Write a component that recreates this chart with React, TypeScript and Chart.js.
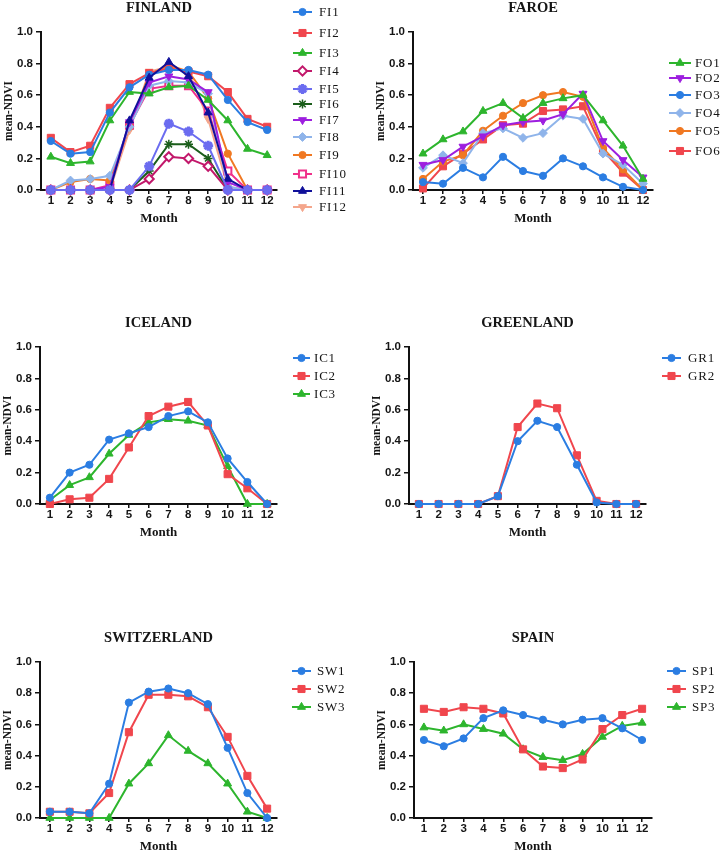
import React, { useEffect, useRef } from 'react';
import { Chart, registerables } from 'chart.js';
import { drawPoint } from 'chart.js/helpers';

Chart.register(...registerables);

// ---------- data ----------
const months = ['1', '2', '3', '4', '5', '6', '7', '8', '9', '10', '11', '12'];
const yTickValues = [0, 0.2, 0.4, 0.6, 0.8, 1.0];

// Finland
const FI1 = [0.31, 0.23, 0.24, 0.49, 0.65, 0.73, 0.76, 0.76, 0.73, 0.57, 0.43, 0.38];
const FI2 = [0.33, 0.24, 0.28, 0.52, 0.67, 0.74, 0.77, 0.75, 0.72, 0.62, 0.45, 0.40];
const FI3 = [0.21, 0.17, 0.18, 0.44, 0.62, 0.61, 0.65, 0.66, 0.57, 0.44, 0.26, 0.22];
const FI4 = [0, 0, 0, 0, 0, 0.07, 0.21, 0.20, 0.15, 0, 0, 0];
const FI5 = [0, 0, 0, 0, 0, 0.15, 0.42, 0.37, 0.28, 0, 0, 0];
const FI6 = [0, 0, 0, 0, 0, 0.12, 0.29, 0.29, 0.20, 0, 0, 0];
const FI7 = [0, 0, 0, 0.02, 0.43, 0.68, 0.72, 0.70, 0.62, 0.05, 0, 0];
const FI8 = [0, 0.06, 0.07, 0.09, 0.40, 0.66, 0.69, 0.68, 0.61, 0.02, 0, 0];
const FI9 = [0, 0.05, 0.07, 0.06, 0.40, 0.73, 0.79, 0.75, 0.58, 0.23, 0, 0];
const FI10 = [0, 0, 0, 0.03, 0.41, 0.64, 0.66, 0.66, 0.50, 0.12, 0, 0];
const FI11 = [0, 0, 0, 0, 0.44, 0.71, 0.81, 0.72, 0.49, 0.07, 0, 0];
const FI12 = [0, 0, 0, 0, 0.38, 0.75, 0.78, 0.75, 0.45, 0.02, 0, 0];

// Faroe
const FO1 = [0.23, 0.32, 0.37, 0.50, 0.55, 0.455, 0.55, 0.58, 0.60, 0.44, 0.28, 0.07];
const FO2 = [0.16, 0.19, 0.275, 0.34, 0.41, 0.43, 0.44, 0.48, 0.61, 0.31, 0.19, 0.08];
const FO3 = [0.05, 0.04, 0.14, 0.08, 0.21, 0.12, 0.09, 0.20, 0.15, 0.08, 0.02, 0.0];
const FO4 = [0.14, 0.22, 0.17, 0.36, 0.39, 0.33, 0.36, 0.47, 0.45, 0.23, 0.16, 0.04];
const FO5 = [0.07, 0.18, 0.22, 0.375, 0.47, 0.55, 0.60, 0.62, 0.59, 0.265, 0.13, 0.0];
const FO6 = [0.01, 0.15, 0.23, 0.32, 0.41, 0.42, 0.50, 0.51, 0.53, 0.25, 0.11, 0.0];

// Iceland
const IC1 = [0.04, 0.20, 0.25, 0.41, 0.45, 0.49, 0.56, 0.59, 0.52, 0.29, 0.14, 0.0];
const IC2 = [0.0, 0.03, 0.04, 0.16, 0.36, 0.56, 0.62, 0.65, 0.50, 0.19, 0.10, 0.0];
const IC3 = [0.025, 0.12, 0.17, 0.32, 0.44, 0.52, 0.54, 0.53, 0.50, 0.24, 0.0, 0.0];

// Greenland
const GR1 = [0, 0, 0, 0, 0.05, 0.40, 0.53, 0.49, 0.25, 0.01, 0, 0];
const GR2 = [0, 0, 0, 0, 0.05, 0.49, 0.64, 0.61, 0.31, 0.02, 0, 0];

// Switzerland
const SW1 = [0.04, 0.04, 0.03, 0.22, 0.74, 0.81, 0.83, 0.80, 0.73, 0.45, 0.16, 0.0];
const SW2 = [0.04, 0.04, 0.03, 0.16, 0.55, 0.79, 0.79, 0.78, 0.71, 0.52, 0.27, 0.06];
const SW3 = [0, 0, 0, 0, 0.22, 0.35, 0.53, 0.43, 0.35, 0.22, 0.04, 0.0];

// Spain
const SP1 = [0.50, 0.46, 0.51, 0.64, 0.69, 0.66, 0.63, 0.60, 0.63, 0.64, 0.575, 0.50];
const SP2 = [0.70, 0.68, 0.71, 0.70, 0.67, 0.44, 0.33, 0.32, 0.375, 0.57, 0.66, 0.70];
const SP3 = [0.58, 0.56, 0.60, 0.57, 0.54, 0.44, 0.39, 0.37, 0.41, 0.52, 0.59, 0.61];

// ---------- styles ----------
const BLUE = '#2b7de2';
const RED = '#f0464d';
const GREEN = '#2db52d';

type Style = { color: string; marker: string; radius: number; rot?: number; open?: boolean; bw?: number; order?: number };
const circle = (c: string): Style => ({ color: c, marker: 'circle', radius: 3.6 });
const square = (c: string): Style => ({ color: c, marker: 'rect', radius: 5 });
const tri = (c: string): Style => ({ color: c, marker: 'triangle', radius: 4.6 });
const itri = (c: string): Style => ({ color: c, marker: 'triangle', radius: 4.6, rot: 180 });
const diamond = (c: string): Style => ({ color: c, marker: 'rectRot', radius: 4.4 });

type Series = { label: string; data: number[]; style: Style };

type PanelDef = {
  title: string;
  series: Series[];
  colX: number;
  rowY: number;
  rowH: number;
  axisLeft: number;
  axisRight: number;
  top: number;
  bottom: number;
  legX0: number;
  legX1: number;
  legText: number;
  legYs: number[];
};

const panels: PanelDef[] = [
  {
    title: 'FINLAND',
    series: [
      { label: 'FI1', data: FI1, style: circle(BLUE) },
      { label: 'FI2', data: FI2, style: square(RED) },
      { label: 'FI3', data: FI3, style: tri(GREEN) },
      { label: 'FI4', data: FI4, style: { color: '#c2186b', marker: 'rectRot', radius: 4.6, open: true, bw: 2 } },
      { label: 'FI5', data: FI5, style: { color: '#6b6cf0', marker: 'star', radius: 5, bw: 3, order: -2 } },
      { label: 'FI6', data: FI6, style: { color: '#1b5e1b', marker: 'star', radius: 4.5, bw: 1.5 } },
      { label: 'FI7', data: FI7, style: itri('#9d1fdf') },
      { label: 'FI8', data: FI8, style: diamond('#8fb4ea') },
      { label: 'FI9', data: FI9, style: circle('#f07822') },
      { label: 'FI10', data: FI10, style: { color: '#f0308a', marker: 'rect', radius: 5, open: true, bw: 2 } },
      { label: 'FI11', data: FI11, style: { color: '#10109a', marker: 'triangle', radius: 4.6, order: -1 } },
      { label: 'FI12', data: FI12, style: itri('#f4a68c') },
    ],
    colX: 0, rowY: 0, rowH: 280,
    axisLeft: 41, axisRight: 277, top: 32, bottom: 190,
    legX0: 293, legX1: 312, legText: 319,
    legYs: [12, 33, 53, 71, 89, 104, 120, 137, 155, 174, 191, 207],
  },
  {
    title: 'FAROE',
    series: [
      { label: 'FO1', data: FO1, style: tri(GREEN) },
      { label: 'FO2', data: FO2, style: itri('#9d1fdf') },
      { label: 'FO3', data: FO3, style: circle(BLUE) },
      { label: 'FO4', data: FO4, style: diamond('#8fb4ea') },
      { label: 'FO5', data: FO5, style: circle('#f07822') },
      { label: 'FO6', data: FO6, style: square(RED) },
    ],
    colX: 360, rowY: 0, rowH: 280,
    axisLeft: 413, axisRight: 653, top: 32, bottom: 190,
    legX0: 669, legX1: 691, legText: 695,
    legYs: [63, 78, 95, 113, 131, 151],
  },
  {
    title: 'ICELAND',
    series: [
      { label: 'IC1', data: IC1, style: circle(BLUE) },
      { label: 'IC2', data: IC2, style: square(RED) },
      { label: 'IC3', data: IC3, style: tri(GREEN) },
    ],
    colX: 0, rowY: 280, rowH: 300,
    axisLeft: 40, axisRight: 277, top: 347, bottom: 504,
    legX0: 293, legX1: 310, legText: 314,
    legYs: [358, 376, 394],
  },
  {
    title: 'GREENLAND',
    series: [
      { label: 'GR1', data: GR1, style: circle(BLUE) },
      { label: 'GR2', data: GR2, style: square(RED) },
    ],
    colX: 360, rowY: 280, rowH: 300,
    axisLeft: 409, axisRight: 646, top: 347, bottom: 504,
    legX0: 662, legX1: 681, legText: 688,
    legYs: [358, 376],
  },
  {
    title: 'SWITZERLAND',
    series: [
      { label: 'SW1', data: SW1, style: circle(BLUE) },
      { label: 'SW2', data: SW2, style: square(RED) },
      { label: 'SW3', data: SW3, style: tri(GREEN) },
    ],
    colX: 0, rowY: 580, rowH: 277,
    axisLeft: 40, axisRight: 277, top: 662, bottom: 818,
    legX0: 292, legX1: 311, legText: 317,
    legYs: [671, 689, 707],
  },
  {
    title: 'SPAIN',
    series: [
      { label: 'SP1', data: SP1, style: circle(BLUE) },
      { label: 'SP2', data: SP2, style: square(RED) },
      { label: 'SP3', data: SP3, style: tri(GREEN) },
    ],
    colX: 360, rowY: 580, rowH: 277,
    axisLeft: 414, axisRight: 652, top: 662, bottom: 818,
    legX0: 667, legX1: 686, legText: 692,
    legYs: [671, 689, 707],
  },
];

const TEXT = '#151515';
const SERIF = '"Liberation Serif", "Times New Roman", serif';
const SANS = '"Liberation Sans", Arial, sans-serif';

const overlayPlugin = {
  id: 'overlay',
  afterDraw(chart: any, _args: any, opts: any) {
    const { ctx, chartArea } = chart;
    const p: PanelDef = opts.panel;
    if (!p) return;
    const offX = p.colX;
    const offY = p.rowY;
    const cx = (chartArea.left + chartArea.right) / 2;
    ctx.save();
    ctx.fillStyle = TEXT;
    ctx.textAlign = 'center';
    ctx.textBaseline = 'middle';
    ctx.font = `bold 14.5px ${SERIF}`;
    ctx.fillText(p.title, cx, chartArea.top - 24);
    ctx.font = `bold 13px ${SERIF}`;
    ctx.fillText('Month', cx, chartArea.bottom + 29);
    ctx.save();
    ctx.translate(chartArea.left - 32, (chartArea.top + chartArea.bottom) / 2);
    ctx.rotate(-Math.PI / 2);
    ctx.font = `bold 11.5px ${SERIF}`;
    ctx.fillText('mean-NDVI', 0, 0);
    ctx.restore();

    chart.data.datasets.forEach((ds: any, i: number) => {
      const y = p.legYs[i] - offY;
      const x0 = p.legX0 - offX;
      const x1 = p.legX1 - offX;
      ctx.strokeStyle = ds.borderColor;
      ctx.lineWidth = 2;
      ctx.beginPath();
      ctx.moveTo(x0, y);
      ctx.lineTo(x1, y);
      ctx.stroke();
      ctx.fillStyle = ds.pointBackgroundColor;
      ctx.strokeStyle = ds.pointBorderColor;
      ctx.lineWidth = ds.pointBorderWidth;
      drawPoint(
        ctx,
        { pointStyle: ds.pointStyle, rotation: ds.pointRotation || 0, radius: ds.pointRadius, borderWidth: ds.pointBorderWidth },
        (x0 + x1) / 2,
        y
      );
      ctx.fillStyle = TEXT;
      ctx.textAlign = 'left';
      ctx.textBaseline = 'middle';
      ctx.font = `13px ${SERIF}`;
      try { (ctx as any).letterSpacing = '0.8px'; } catch (e) {}
      ctx.fillText(ds.label, p.legText - offX, y + 0.5);
      try { (ctx as any).letterSpacing = '0px'; } catch (e) {}
    });
    ctx.restore();
  },
};

function Panel({ p }: { p: PanelDef }) {
  const ref = useRef<HTMLCanvasElement | null>(null);
  const W = 360;
  const H = p.rowH;
  useEffect(() => {
    if (!ref.current) return;
    const xH = 24;
    const yW = p.axisLeft - p.colX;
    const datasets = p.series.map((s) => ({
      label: s.label,
      data: s.data,
      order: s.style.order ?? 0,
      borderColor: s.style.color,
      backgroundColor: s.style.color,
      borderWidth: 2,
      pointStyle: s.style.marker,
      pointRadius: s.style.radius,
      pointHoverRadius: s.style.radius,
      pointRotation: s.style.rot || 0,
      pointBackgroundColor: s.style.open ? '#ffffff' : s.style.color,
      pointBorderColor: s.style.color,
      pointBorderWidth: s.style.bw ?? 1,
      tension: 0,
      fill: false,
      clip: false,
    }));
    const chart = new Chart(ref.current, {
      type: 'line',
      data: { labels: months, datasets },
      plugins: [overlayPlugin],
      options: {
        responsive: false,
        animation: false,
        devicePixelRatio: 1,
        layout: {
          padding: {
            left: 0,
            top: p.top - p.rowY,
            right: p.colX + W - p.axisRight,
            bottom: p.rowY + H - p.bottom - xH,
          },
        },
        plugins: {
          legend: { display: false },
          title: { display: false },
          tooltip: { enabled: false },
          overlay: { panel: p },
        } as any,
        scales: {
          x: {
            type: 'category',
            offset: true,
            afterFit: (s: any) => { s.height = xH; },
            grid: { display: true, drawOnChartArea: false, drawTicks: true, tickLength: 4, color: '#111', lineWidth: 1.5 },
            border: { display: true, color: '#111', width: 2 },
            ticks: { color: TEXT, padding: 0, maxRotation: 0, autoSkip: false, font: { family: SANS, size: 11.5, weight: 'bold' } },
          },
          y: {
            type: 'linear',
            min: 0,
            max: 1,
            afterFit: (s: any) => { s.width = yW; },
            afterBuildTicks: (s: any) => { s.ticks = yTickValues.map((v) => ({ value: v })); },
            grid: { display: true, drawOnChartArea: false, drawTicks: true, tickLength: 5, color: '#111', lineWidth: 1.5 },
            border: { display: true, color: '#111', width: 2 },
            ticks: {
              color: TEXT,
              padding: 3,
              font: { family: SANS, size: 11.5, weight: 'bold' },
              callback: (v: any) => Number(v).toFixed(1),
            },
          },
        },
      } as any,
    });
    return () => chart.destroy();
  }, [p]);
  return (
    <canvas
      ref={ref}
      width={W}
      height={H}
      style={{ position: 'absolute', left: p.colX, top: p.rowY, width: W, height: H }}
    />
  );
}

export default function App() {
  return (
    <div style={{ position: 'absolute', left: 0, top: 0, width: 720, height: 857, background: '#ffffff' }}>
      {panels.map((p) => (
        <Panel key={p.title} p={p} />
      ))}
    </div>
  );
}
